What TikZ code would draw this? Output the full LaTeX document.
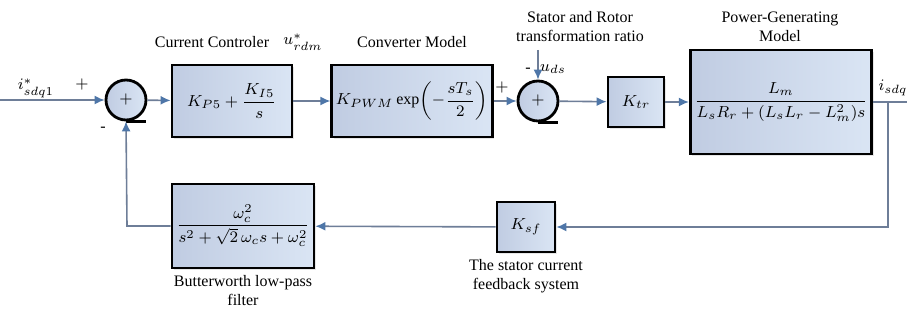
\documentclass[tikz,border=0pt]{standalone}
\usepackage{amsmath}
\usepackage{fontspec}
\setmainfont{Liberation Serif}
\usepackage{tikz}
\usetikzlibrary{arrows.meta, positioning, shadows}
\definecolor{blkA}{RGB}{192,204,226}
\definecolor{blkB}{RGB}{218,229,244}
\definecolor{wire}{RGB}{110,126,152}
\definecolor{tipc}{RGB}{78,118,168}
\tikzset{
  %% transfer-function block
  blk/.style={
    rectangle, draw=black, line width=1.4pt,
    left color=blkA, right color=blkB,
    drop shadow={opacity=0.2, shadow xshift=1pt, shadow yshift=-1pt},
    text centered, inner sep=2pt, font=\fontsize{8}{9}\selectfont
  },
  %% summing junction
  sumnode/.style={
    circle, draw=black, line width=1.4pt,
    left color=blkA, right color=blkB,
    minimum size=20pt, inner sep=0pt, font=\fontsize{8}{9}\selectfont
  },
  %% signal line
  sig/.style={-{Latex[length=5pt,width=4.5pt,color=tipc]},
              draw=wire, line width=0.8pt},
  wire/.style={draw=wire, line width=0.8pt},
  %% text label
  lbl/.style={font=\fontsize{8}{9.5}\selectfont, align=center, inner sep=1pt},
}
\begin{document}
\begin{tikzpicture}[x=0.5pt, y=-0.5pt]
  \useasboundingbox (0,0) rectangle (907,320);

  %% ---- forward path ----
  \coordinate (in) at (0,100);
  \node[sumnode] (s1) at (126,100) {$+$};
  \node[blk, minimum width=60pt, minimum height=36pt] (ctrl) at (232,101)
       {$K_{P5}+\dfrac{K_{I5}}{s}$};
  \node[blk, minimum width=75pt, minimum height=36pt] (conv) at (412,101)
       {$K_{PWM}\exp\!\left(-\dfrac{sT_s}{2}\right)$};
  \node[sumnode] (s2) at (538,101) {$+$};
  \node[blk, minimum width=28pt, minimum height=25pt] (ktr) at (636,102)
       {$K_{tr}$};
  \node[blk, minimum width=86pt, minimum height=52pt] (pgm) at (781,102)
       {$\dfrac{L_m}{L_sR_r+(L_sL_r-L_m^2)s}$};
  \coordinate (ud) at (538,50);
  \coordinate (br) at (888,102);
  \coordinate (outR) at (907,102);

  %% ---- feedback path ----
  \node[blk, minimum width=29pt, minimum height=25pt] (ksf) at (526,227)
       {$K_{sf}$};
  \node[blk, minimum width=71pt, minimum height=42pt] (bwf) at (243,226)
       {$\dfrac{\omega_c^2}{s^2+\sqrt{2}\,\omega_c s+\omega_c^2}$};
  \coordinate (fbL) at (127,226);

  %% summer tails
  \draw[line width=1.4pt] (s1.south) -- ++(20,0);
  \draw[line width=1.4pt] (s2.south) -- ++(20,0);

  %% connectors
  \draw[sig] (in) -- (s1);
  \draw[sig] (s1) -- (ctrl);
  \draw[sig] (ctrl) -- (conv);
  \draw[sig] (conv) -- (s2);
  \draw[sig] (ud) -- (s2);
  \draw[sig] (s2) -- (ktr);
  \draw[sig] (ktr) -- (pgm);
  \draw[wire] (pgm.east) -- (outR);
  \draw[sig] (br) |- (ksf.east);
  \draw[sig] (ksf) -- (bwf);
  \draw[sig] (bwf.west) -- (fbL) -- (s1.south);

  %% signal labels
  \node[lbl] (lin) at (36,88) {$i^*_{sdq1}$};
  \node[lbl] (pl1) at (82,85) {$+$};
  \node[lbl] (mn1) at (103,129) {-};
  \node[lbl] (lu) at (303,42) {$u^*_{rdm}$};
  \node[lbl] (pl2) at (502,88) {$+$};
  \node[lbl] (mn2) at (528,70) {-};
  \node[lbl] (lud) at (553,69) {$u_{ds}$};
  \node[lbl] (lout) at (893,88) {$i_{sdq}$};

  %% block titles
  \node[lbl] (tctrl) at (212,42) {Current Controler};
  \node[lbl] (tconv) at (412,42) {Converter Model};
  \node[lbl] (tktr) at (580,27) {Stator and Rotor\\transformation ratio};
  \node[lbl] (tpgm) at (780,27) {Power-Generating\\Model};
  \node[lbl, below=2pt of bwf] (tbwf) {Butterworth low-pass\\filter};
  \node[lbl, below=2pt of ksf] (tksf) {The stator current\\feedback system};

\end{tikzpicture}
\end{document}
